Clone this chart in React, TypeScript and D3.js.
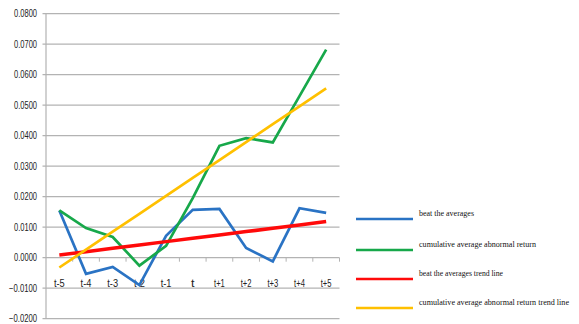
import React from "react";
import * as d3 from "d3";

// Event window around the announcement day
const categories = ["t-5", "t-4", "t-3", "t-2", "t-1", "t", "t+1", "t+2", "t+3", "t+4", "t+5"];
// Daily abnormal return ("beat the averages")
const beatAverages = [0.0155, -0.0053, -0.003, -0.009, 0.0072, 0.0157, 0.016, 0.0032, -0.0012, 0.0162, 0.0147];
// Cumulative average abnormal return
const cumulativeAAR = [0.0155, 0.0097, 0.0068, -0.0026, 0.0039, 0.0195, 0.0367, 0.0392, 0.0378, 0.053, 0.0682];
const yTicks = [-0.02, -0.01, 0, 0.01, 0.02, 0.03, 0.04, 0.05, 0.06, 0.07, 0.08];
const legendLabels = [
  "beat the averages",
  "cumulative average  abnormal return",
  "beat the averages  trend line",
  "cumulative average  abnormal return trend line",
];

const COLORS = ["#2a73c4", "#17a84a", "#ff0a0a", "#ffc000"];

// Least-squares linear trend over the category index
function trend(values: number[]): number[] {
  const xs = values.map((_, i) => i);
  const mx = d3.mean(xs) as number;
  const my = d3.mean(values) as number;
  let num = 0;
  let den = 0;
  xs.forEach((x, i) => {
    num += (x - mx) * (values[i] - my);
    den += (x - mx) * (x - mx);
  });
  const slope = num / den;
  return xs.map((x) => my + slope * (x - mx));
}

export default function App() {
  const width = 579;
  const height = 324;
  const left = 46;
  const right = 339.5;

  const x = d3.scaleBand<string>().domain(categories).range([left, right]);
  const y = d3.scaleLinear().domain([-0.02, 0.08]).range([318.7, 13.7]);
  const cx = (c: string) => (x(c) as number) + x.bandwidth() / 2;

  const series = [beatAverages, cumulativeAAR, trend(beatAverages), trend(cumulativeAAR)];
  const line = d3
    .line<number>()
    .x((_, i) => cx(categories[i]))
    .y((d) => y(d));

  const legendY = [219, 250, 279, 308];
  const legendWidths = [55, 117, 84, 150];

  return (
    <svg width={width} height={height} style={{ position: "absolute", left: 0, top: 0, background: "#fff" }}>
      {/* horizontal gridlines */}
      {yTicks.map((t) => (
        <line key={t} x1={42.5} x2={right} y1={y(t)} y2={y(t)} stroke="#b3b3b3" strokeWidth={1.3} />
      ))}
      {/* y axis */}
      <line x1={left} x2={left} y1={y(0.08)} y2={y(-0.02)} stroke="#b3b3b3" strokeWidth={1.2} />
      {/* y tick labels */}
      {yTicks.map((t) => {
        const label = d3.format(".4f")(t);
        return (
          <text
            key={t}
            x={37}
            y={y(t) + 3.5}
            textAnchor="end"
            fontFamily="Liberation Sans, Arial, sans-serif"
            fontSize={10}
            fill="#222"
            textLength={label.length > 6 ? 28 : 23}
            lengthAdjust="spacingAndGlyphs"
          >
            {label}
          </text>
        );
      })}
      {/* category ticks on the zero line */}
      {categories.map((c, i) => (
        <line
          key={c}
          x1={left + x.step() * (i + 1)}
          x2={left + x.step() * (i + 1)}
          y1={y(0)}
          y2={y(0) + 4}
          stroke="#b3b3b3"
          strokeWidth={1}
        />
      ))}
      {/* category labels */}
      {categories.map((c) => (
        <text
          key={c}
          x={cx(c)}
          y={286.5}
          textAnchor="middle"
          fontFamily="Liberation Sans, Arial, sans-serif"
          fontSize={10.5}
          fill="#222"
          textLength={c.length === 1 ? 3.5 : c.length * 3.6}
          lengthAdjust="spacingAndGlyphs"
        >
          {c}
        </text>
      ))}
      {/* series lines */}
      {series.map((s, i) => (
        <path
          key={i}
          d={line(s) as string}
          fill="none"
          stroke={COLORS[i]}
          strokeWidth={i === 2 ? 3.5 : 2.7}
          strokeLinejoin="miter"
        />
      ))}
      {/* legend */}
      {legendLabels.map((l, i) => (
        <g key={l}>
          <line x1={356} x2={413} y1={legendY[i]} y2={legendY[i]} stroke={COLORS[i]} strokeWidth={2.5} />
          <text
            x={419}
            y={legendY[i] - 3}
            fontFamily="Liberation Serif, Times New Roman, serif"
            fontSize={8.5}
            fill="#111"
            textLength={legendWidths[i]}
            lengthAdjust="spacingAndGlyphs"
          >
            {l}
          </text>
        </g>
      ))}
    </svg>
  );
}
